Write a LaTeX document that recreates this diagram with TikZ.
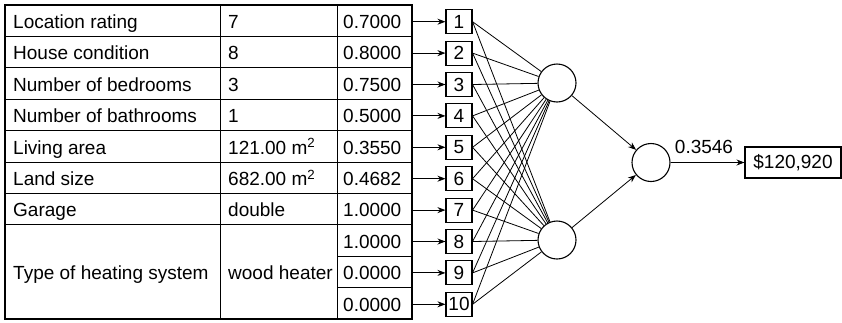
\documentclass[tikz,border=0pt]{standalone}
\usepackage{fontspec}
\setmainfont{Liberation Sans}
\usetikzlibrary{arrows.meta}

\begin{document}
\begin{tikzpicture}[x=1pt,y=-1pt,>={Stealth[length=8pt,width=6pt]},
    font=\fontsize{19}{22}\selectfont,
    cell/.style={anchor=west,inner sep=0pt,text height=13.6pt,text depth=0pt},
    numcell/.style={anchor=west,inner xsep=6pt,inner ysep=0pt,text width=63pt,align=left,text height=13.6pt,text depth=0pt},
    inbox/.style={draw,line width=1.1pt,minimum width=26pt,minimum height=24pt,inner sep=0pt},
    neuron/.style={draw,circle,line width=1.1pt,minimum size=38pt,inner sep=0pt}]
    \useasboundingbox (0,0) rectangle (842,322);
    % table
    \draw[line width=1.4pt] (5,5) rectangle (412,319);
    \draw[line width=1pt] (220,5) -- (220,319) (337,5) -- (337,319);
    \foreach \k in {1,...,9} {
      \pgfmathsetmacro\yy{5+31.4*\k}
      \ifnum\k<8 \draw[line width=1pt] (5,\yy) -- (412,\yy); \else \draw[line width=1pt] (337,\yy) -- (412,\yy); \fi
    }
    \foreach \i/\lbl/\val in {1/Location rating/7, 2/House condition/8, 3/Number of bedrooms/3,
        4/Number of bathrooms/1, 5/Living area/121.00 m\textsuperscript{2},
        6/Land size/682.00 m\textsuperscript{2}, 7/Garage/double} {
      \node[cell] (lbl\i) at (13,{5+31.4*(\i-0.5)+1}) {\lbl};
      \node[cell] (val\i) at (228,{5+31.4*(\i-0.5)+1}) {\val};
    }
    \node[cell] (lbl8) at (13,{5+31.4*8.5+1}) {Type of heating system};
    \node[cell] (val8) at (228,{5+31.4*8.5+1}) {wood heater};
    % inputs
    \foreach \i/\num in {1/0.7000, 2/0.8000, 3/0.7500, 4/0.5000, 5/0.3550,
        6/0.4682, 7/1.0000, 8/1.0000, 9/0.0000, 10/0.0000} {
      \node[numcell] (num\i) at (337,{5+31.4*(\i-0.5)+1}) {\num};
      \node[inbox] (in\i) at (459,{5+31.4*(\i-0.5)+1}) {\i};
      \draw[->,line width=0.9pt] (num\i.east) -- (in\i);
    }
    % network
    \node[neuron] (h1) at (557,83) {};
    \node[neuron] (h2) at (557,240) {};
    \node[neuron] (out) at (651,162.5) {};
    \foreach \i in {1,...,10} {
      \draw[line width=0.8pt] (in\i.east) -- (h1);
      \draw[line width=0.8pt] (in\i.east) -- (h2);
    }
    \draw[->,line width=0.8pt] (h1) -- (out);
    \draw[->,line width=0.8pt] (h2) -- (out);
    \node[draw,line width=1.1pt,minimum width=96pt,minimum height=31pt] (price) at (793,162.5) {\$120,920};
    \draw[->,line width=0.8pt] (out) -- (price);
    \node (wout) at (704,146.5) {0.3546};
\end{tikzpicture}
\end{document}
